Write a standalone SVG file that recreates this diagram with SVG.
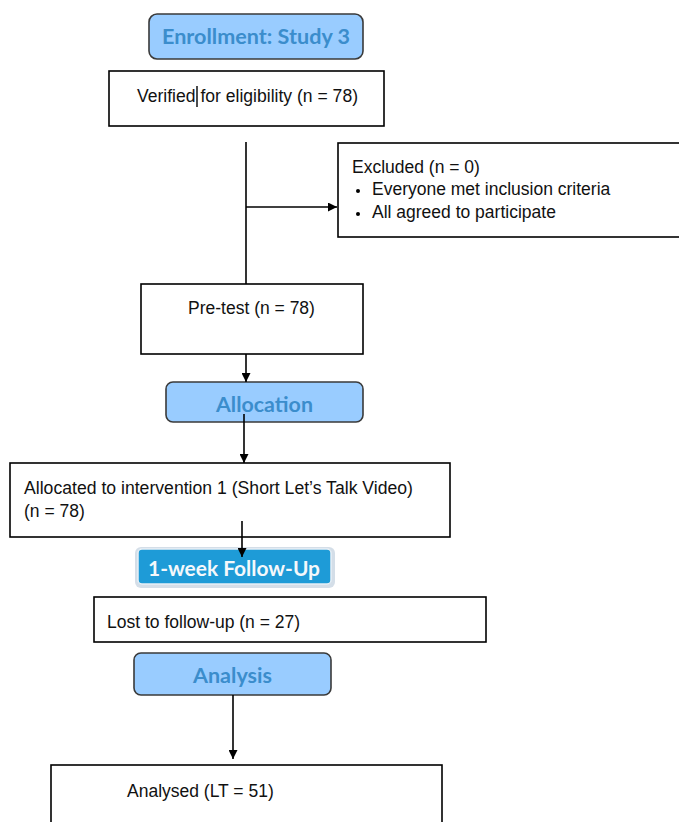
<svg xmlns="http://www.w3.org/2000/svg" width="679" height="822" viewBox="0 0 679 822">
<defs>
<marker id="ah" viewBox="0 0 10 10" refX="10" refY="5" markerWidth="9" markerHeight="9" markerUnits="userSpaceOnUse" orient="auto">
<path d="M0,0 L10,5 L0,10 z" fill="#000"/>
</marker>
<style>
.box{fill:#fff;stroke:#000;stroke-width:1.6}
.hdr{fill:#99ccff;stroke:#3a3a3a;stroke-width:1.6}
.t{font-family:"Liberation Sans",Arial,sans-serif;font-size:17.5px;fill:#111}
.h{font-family:Lato,"Open Sans",sans-serif;font-weight:bold;font-size:20px;fill:#3b8dcc}
.c{stroke:#000;stroke-width:1.6;fill:none}
</style>
</defs>
<rect width="679" height="822" fill="#fff"/>
<g id="enrollment">
<rect class="hdr" x="149" y="14" width="214" height="45" rx="8"/>
<text class="h" x="162" y="44" textLength="188" lengthAdjust="spacingAndGlyphs">Enrollment: Study 3</text>
</g>
<g id="verified">
<rect class="box" x="109" y="71" width="275" height="55"/>
<text class="t" x="137" y="102" textLength="221" lengthAdjust="spacingAndGlyphs">Verified for eligibility (n = 78)</text>
<line x1="197" y1="86" x2="197" y2="107" stroke="#000" stroke-width="1.4"/>
</g>
<g id="excluded">
<rect class="box" x="338" y="143" width="350" height="94"/>
<text class="t" x="352" y="173">Excluded (n = 0)</text>
<circle cx="358" cy="191" r="2" fill="#000"/>
<text class="t" x="372" y="195">Everyone met inclusion criteria</text>
<circle cx="358" cy="214" r="2" fill="#000"/>
<text class="t" x="372" y="218">All agreed to participate</text>
</g>
<g id="pretest">
<rect class="box" x="141" y="284" width="222" height="70"/>
<text class="t" x="188" y="314">Pre-test (n = 78)</text>
</g>
<g id="allocation">
<rect class="hdr" x="166" y="382" width="197" height="40" rx="7"/>
<text class="h" x="216" y="412" textLength="97" lengthAdjust="spacingAndGlyphs">Allocation</text>
</g>
<g id="allocated">
<rect class="box" x="10" y="463" width="440" height="74"/>
<text class="t" x="24" y="494" textLength="389" lengthAdjust="spacingAndGlyphs">Allocated to intervention 1 (Short Let’s Talk Video)</text>
<text class="t" x="24" y="517">(n = 78)</text>
</g>
<g id="followup">
<rect x="135" y="547" width="200" height="41" rx="6" fill="#c9d6e2" opacity="0.8"/>
<rect x="138" y="549" width="193" height="35" rx="4" fill="#1e9bd7" stroke="#e8f0f6" stroke-width="1.5"/>
<text class="h" x="148" y="576" textLength="172" lengthAdjust="spacingAndGlyphs" style="fill:#f4f8fb">1-week Follow-Up</text>
</g>
<g id="lost">
<rect class="box" x="94" y="597" width="392" height="45"/>
<text class="t" x="107" y="628">Lost to follow-up (n = 27)</text>
</g>
<g id="analysis">
<rect class="hdr" x="134" y="653" width="197" height="42" rx="7"/>
<text class="h" x="193" y="683" textLength="79" lengthAdjust="spacingAndGlyphs">Analysis</text>
</g>
<g id="analysed">
<rect class="box" x="51" y="765" width="391" height="70"/>
<text class="t" x="127" y="797">Analysed (LT = 51)</text>
</g>
<g id="connectors">
<line class="c" x1="246" y1="142" x2="246" y2="284"/>
<line class="c" x1="246" y1="207" x2="337" y2="207" marker-end="url(#ah)"/>
<line class="c" x1="246" y1="354" x2="246" y2="382" marker-end="url(#ah)"/>
<line class="c" x1="244" y1="414" x2="244" y2="463" marker-end="url(#ah)"/>
<line class="c" x1="242" y1="521" x2="242" y2="557" marker-end="url(#ah)"/>
<line class="c" x1="233" y1="695" x2="233" y2="759" marker-end="url(#ah)"/>
</g>
</svg>
